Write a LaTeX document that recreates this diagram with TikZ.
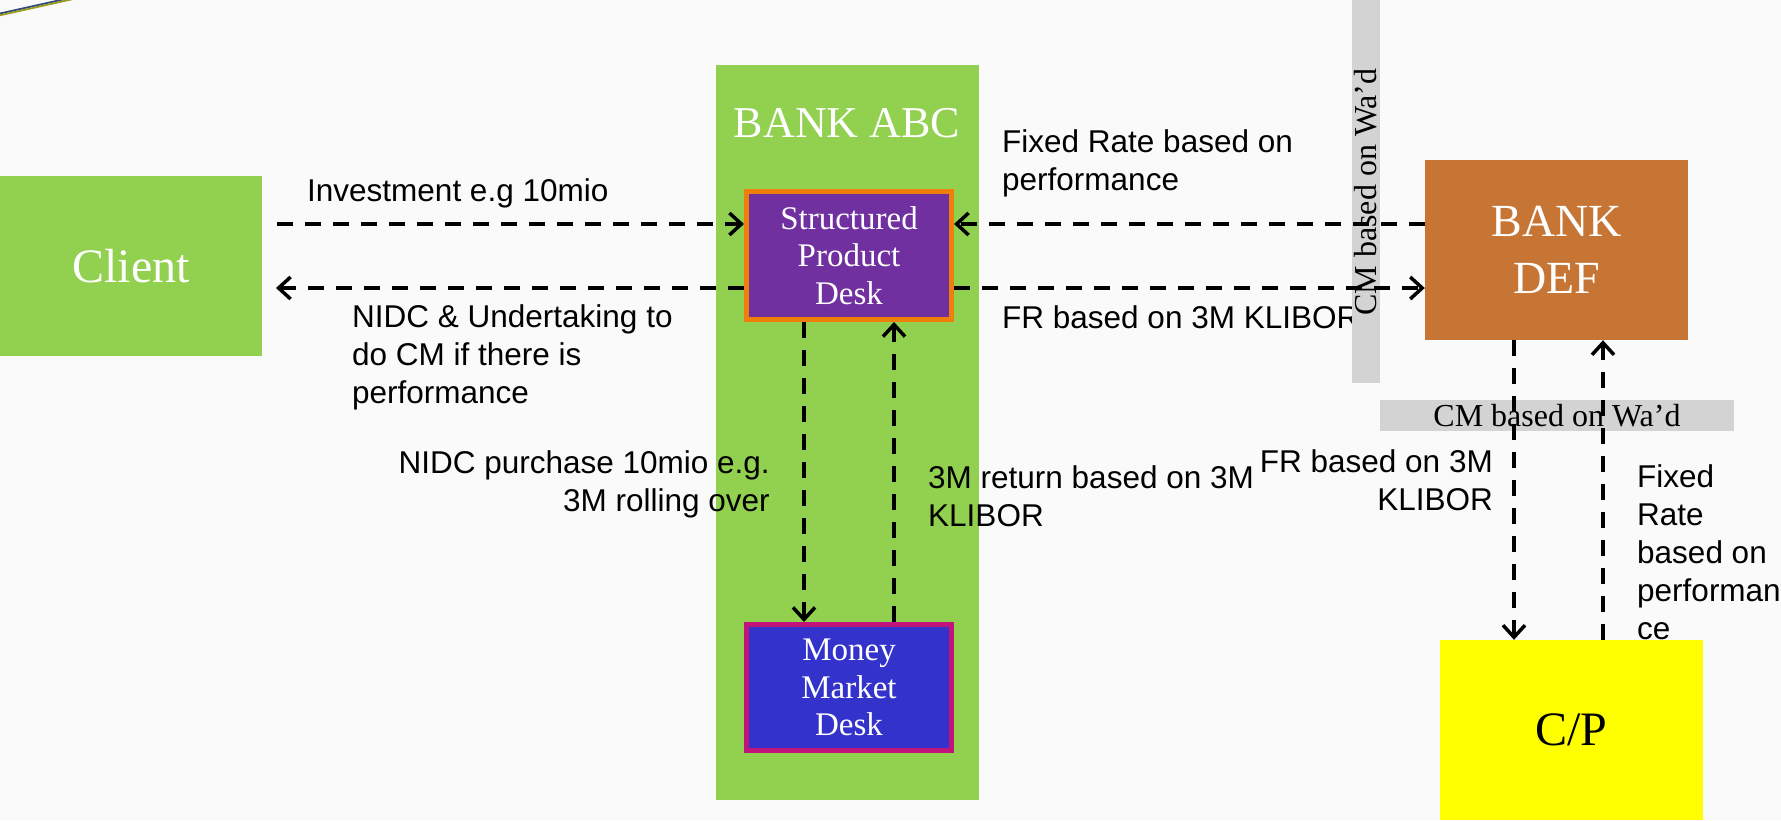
\documentclass[tikz,border=0pt]{standalone}
\usepackage{fontspec}
\setmainfont{Liberation Serif}
\newfontfamily\arialf{Liberation Sans}
\usetikzlibrary{arrows.meta}
\definecolor{bgc}{HTML}{FAFAFA}
\definecolor{clientgreen}{HTML}{92D050}
\definecolor{spdpurple}{HTML}{7030A0}
\definecolor{spdorange}{HTML}{F07F09}
\definecolor{mmdblue}{HTML}{3333CC}
\definecolor{mmdmagenta}{HTML}{C0147C}
\definecolor{defbrown}{HTML}{C77535}
\definecolor{cpyellow}{HTML}{FFFF00}
\definecolor{bargray}{HTML}{D3D3D3}
\definecolor{decnavy}{HTML}{2E4A7D}
\definecolor{decolive}{HTML}{9C9C20}
\newcommand\myfs[2]{\fontsize{#1pt}{#2pt}\selectfont}
\tikzset{
  boxnode/.style={rectangle, inner sep=0pt, align=center, text=white},
  lbl/.style={font=\arialf\myfs{31.5}{37.8}, inner sep=0pt, text=black},
  graybar/.style={rectangle, fill=bargray, inner sep=0pt, font=\myfs{32}{38}},
  conn/.style={line width=4pt, dash pattern=on 16pt off 12pt,
    -{Straight Barb[length=12pt,width=22pt,line width=3.5pt]}},
}
\begin{document}
\begin{tikzpicture}[x=1pt,y=-1pt]
\useasboundingbox (0,0) rectangle (1781,820);
\fill[bgc] (0,0) rectangle (1781,820);
% decorative corner line
\draw[decnavy, line width=1.8pt] (-10,15.7) -- (80,-4.3);
\draw[decolive, line width=1.8pt] (-10,17.5) -- (80,-2.5);

% Bank ABC column
\node[rectangle, fill=clientgreen, inner sep=0pt, minimum width=263pt, minimum height=735pt] (abc) at (847.5,432.5) {};
\node[text=white, font=\myfs{44}{50}, inner sep=0pt] (abctitle) at (847,123) {BANK ABC};

% Client
\node[boxnode, fill=clientgreen, minimum width=262pt, minimum height=180pt, font=\myfs{48}{56}] (client) at (131,266) {Client};

% Structured Product Desk
\node[boxnode, fill=spdpurple, draw=spdorange, line width=5pt, minimum width=205pt, minimum height=128pt, font=\myfs{33}{37.5}] (spd) at (849,255.5) {Structured\\Product\\Desk};

% Money Market Desk
\node[boxnode, fill=mmdblue, draw=mmdmagenta, line width=5pt, minimum width=205pt, minimum height=126pt, font=\myfs{33}{37.5}] (mmd) at (849,687.5) {Money\\Market\\Desk};

% Bank DEF
\node[boxnode, fill=defbrown, minimum width=263pt, minimum height=180pt, font=\myfs{46}{57}] (def) at (1556.5,250) {BANK\\DEF};

% C/P
\node[boxnode, fill=cpyellow, text=black, minimum width=263pt, minimum height=180pt, font=\myfs{48}{56}] (cp) at (1571.5,730) {C/P};

% labels (base anchor of a multi-line node = baseline of its last line)
\node[lbl, anchor=base west] (linv) at (307,201) {Investment e.g 10mio};
\node[lbl, anchor=base west, align=left] (lnidc) at (352,403) {NIDC \& Undertaking to\\do CM if there is\\performance};
\node[lbl, anchor=base west, align=left] (lfix) at (1002,190) {Fixed Rate based on\\performance};
\node[lbl, anchor=base west] (lfr) at (1002,328) {FR based on 3M KLIBOR};
\node[lbl, anchor=base east, align=right] (lpur) at (770,511) {NIDC purchase 10mio e.g.\\3M rolling over};
\node[lbl, anchor=base west, align=left] (lret) at (928,526) {3M return based on 3M\\KLIBOR};
\node[lbl, anchor=base east, align=right] (lfr2) at (1493,510) {FR based on 3M\\KLIBOR};
\node[lbl, anchor=base west, align=left] (lfix2) at (1637,639) {Fixed\\Rate\\based on\\performan\\ce};

% gray bars
\node[graybar, minimum width=28pt, minimum height=383pt] (vbar) at (1366,191.5) {};
\node[rotate=90, inner sep=0pt, font=\myfs{32}{38}] (vbartext) at (1366,192) {CM based on Wa’d};
\node[graybar, minimum width=354pt, minimum height=31pt] (hbar) at (1557,415.5) {CM based on Wa’d};

% connector end coordinates
\coordinate (cin) at (277,224);
\coordinate (cout) at (276,288);
\coordinate (xl) at (804,0);
\coordinate (xr) at (894,0);
\coordinate (xdl) at (1514,0);
\coordinate (xdr) at (1603,0);

% connectors
\draw[conn] (cin) -- (spd.west |- cin);
\draw[conn] (spd.west |- cout) -- (cout);
\draw[conn] (def.west |- cin) -- (spd.east |- cin);
\draw[conn] (spd.east |- cout) -- (def.west |- cout);
\draw[conn] (spd.south -| xl) -- (mmd.north -| xl);
\draw[conn] (mmd.north -| xr) -- (spd.south -| xr);
\draw[conn] (def.south -| xdl) -- (cp.north -| xdl);
\draw[conn] (cp.north -| xdr) -- (def.south -| xdr);
\end{tikzpicture}
\end{document}
